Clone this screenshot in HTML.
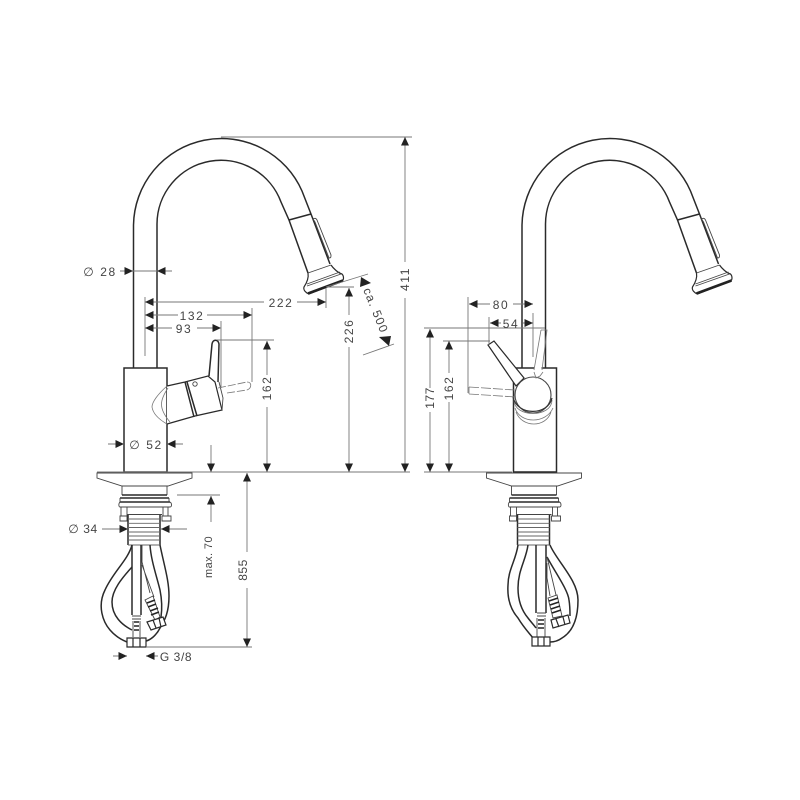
<!DOCTYPE html>
<html><head><meta charset="utf-8"><style>
html,body{margin:0;padding:0;background:#fff}
svg{display:block}
text{font-family:"Liberation Sans",sans-serif;font-size:12px;fill:#444;letter-spacing:1.6px;text-anchor:middle}
.o{fill:none;stroke:#2a2a2a;stroke-width:1.5}
.t{fill:none;stroke:#444;stroke-width:.9}
.d{fill:none;stroke:#777;stroke-width:.9}
.g{fill:none;stroke:#777;stroke-width:.8}
.w{fill:#fff;stroke:#2a2a2a;stroke-width:1.2}
</style></head><body>
<svg width="800" height="800" viewBox="0 0 800 800" xmlns="http://www.w3.org/2000/svg">
<defs>
<polygon id="a" points="-8.5,-4 0,0 -8.5,4" fill="#222"/>
<g id="spout">
<path class="o" d="M133.5 368V225A88 88 0 0 1 302 191L311 214L330 264"/>
<path class="o" d="M157 368V224A64 64 0 0 1 281 202L289 220L308 273"/>
<path class="o" d="M289 220L311 214"/>
<path class="t" d="M313 219C315 218 316 218 317 220L331 255C331 257 331 258 329 258L315 222Z"/>
<path class="w" d="M308 273C309 279 306 284 304 287C303 290 306 293 309 294L342 281C344 280 344 276 342 274C338 273 333 268 331 265"/>
<path class="t" d="M308 273L331 265M307 284L340 272M307 286L341 274"/>
<path d="M308 293.5L343 280.5" fill="none" stroke="#222" stroke-width="2.6"/>
</g>
<g id="deck">
<path class="o" d="M124 368H167V472H124Z"/>
<path d="M126 472.5H165" stroke="#222" stroke-width="2"/>
<path class="t" d="M97 473H192V478L168 486H122L97 478Z" stroke-width="1.1"/>
<path class="t" d="M122 486V495M167 486V495"/>
<path class="o" d="M122 495H167M120 498H169M120 502H170" stroke-width="1.2"/>
<path class="t" d="M120 498V502M169 498V502M120 502C118 504 119 507 120 507H170C172 507 172 503 170 502"/>
<path class="t" d="M121 507V516M127 507V516M163 507V516M168 507V516M127 514.500H162"/>
<path class="t" d="M120 516H127V521H120ZM162 516H171V521H162Z" stroke-width="1.2"/>
<path class="o" d="M128 515V545M160 515V545" stroke-width="1.2"/>
<path d="M128 519H160M128 523.300H160M128 527.500H160M128 532H160M128 536H160M128 540H160M128 545H160" fill="none" stroke="#666" stroke-width=".9"/>
</g>
</defs>

<use href="#spout"/>
<use href="#spout" x="388.5"/>
<use href="#deck"/>
<use href="#deck" x="389.5"/>

<!-- left hoses -->
<g>
<path class="o" d="M132 545V615M141 545V615"/>
<path class="o" d="M132 545C128 560 113 572 105 590C97 606 103 622 110 630C116 637 122 640 127 642" />
<path class="o" d="M132 567C122 578 112 590 112 602C112 616 122 625 132 630"/>
<path class="o" d="M160 545C164 565 169 580 169 596C169 612 165 620 160 628C156 636 150 640 146 641"/>
<path class="o" d="M150 545C151 560 156 574 160 590C162 600 162 610 161 617"/>
<path class="t" d="M142 545V562L150 593M142 565L154 597"/>
<path class="t" d="M132 616H141M132 619H141M133 621V637M140 621V637"/>
<path d="M134 622H139M134 626H139M134 630H139" stroke="#222" stroke-width="1.6"/>
<path class="w" d="M127 638H146V647H127ZM133 638V647M140 638V647"/>
<path class="t" d="M145 600L153 596L160 617L155 620Z"/>
<path d="M147 603L155 600M148 607L156 604M150 611L158 608M151 615L159 612" stroke="#222" stroke-width="1.5"/>
<path class="w" d="M147 622L163 617L166 625L151 630ZM153 620L156 628M159 618L161 627"/>
</g>
<!-- right hoses -->
<g>
<path class="o" d="M536 545V613M546 545V613"/>
<path class="o" d="M518 545C516 560 508 570 508 585C507 600 511 610 518 618C524 628 530 634 533 638"/>
<path class="o" d="M528 545C526 560 518 570 518 588C518 603 523 612 528 618C531 622 534 625 536 628"/>
<path class="o" d="M550 545C556 560 578 580 578 600C578 620 572 632 562 638C558 641 553 642 550 642"/>
<path class="o" d="M547 557C555 572 568 590 569 600C570 606 570 612 570 616"/>
<path class="t" d="M547 563V578L550 596M547 557L556 595"/>
<path class="t" d="M537 613H546M537 616H546M537 618V637M545 618V637"/>
<path d="M538 620H544M538 624H544M538 628H544" stroke="#222" stroke-width="1.6"/>
<path class="w" d="M532 637H550V646H532ZM538 637V646M544 637V646"/>
<path class="t" d="M548 598L557 595L562 616L553 618Z"/>
<path d="M549 601L558 598M550 605L559 602M551 609L560 606M552 613L561 610" stroke="#222" stroke-width="1.5"/>
<path class="w" d="M551 620L568 615L570 623L553 628ZM556 619L559 627M563 617L565 625"/>
</g>

<!-- left lever -->
<path class="o" d="M209 376L212 344C213 339 218 339 219 344L218 382"/>
<path class="w" d="M167 386L185 382L208 376L215 382L222 410L195 416L167 424"/>
<path class="o" d="M185 382L194 417M187 382L197 416"/>
<circle cx="195" cy="384" r="2.2" class="t" stroke-width="1.3"/>
<path class="g" d="M167 386C158 394 152 402 152 407C153 414 160 420 167 424M168 388C160 400 158 408 170 422" />
<path class="t" d="M219 382L223 398L222 410"/>
<path class="g" d="M218 388L247 382M227 393L247 390" stroke-dasharray="8 2"/>
<path class="g" d="M247 382C252 382 252 388 247 390"/>

<!-- right lever -->
<path class="w" d="M488 345L494 341L524 378L516 386Z"/>
<circle cx="533" cy="395" r="18" fill="#fff" stroke="#444" stroke-width="1.1"/>
<path class="g" d="M514 400C514 418 552 418 552 400M515 408C520 424 546 424 553 408M516 412C522 428 546 428 551 412"/>
<path d="M513 397C517 416 548 416 552 398" fill="none" stroke="#333" stroke-width="1.2"/>
<rect x="534.500" y="366" width="7" height="4" fill="#fff"/>
<path class="g" d="M541 330L547 330L542 370M541 330L534 370M534 372L536 378L540 376L543 372"/>
<path class="g" d="M469 387L515 390M469 394L516 397M469 387V394" stroke-dasharray="10 2"/>

<!-- extension lines -->
<path class="d" d="M221 137H412M145 297V356M326 288V308M252 308V382M221 321V388M217 340H274M326 287H354M97 472H410M177 495H220M146 647H252M326 287L368 274M363 355L394 344"/>
<path class="d" d="M120 271H172"/>
<path class="d" d="M145 302H264M297 302H326M145 315H178M207 315H252M145 328H172M197 328H220"/>
<path class="d" d="M108 444H124M167 444H183M211 445V472"/>
<path class="d" d="M405 137V262M405 298V472"/>
<path class="d" d="M349 288V315M349 347V472"/>
<path class="d" d="M267 341V375M267 407V472"/>
<path class="d" d="M102 529H128M161 529H187M211 496V522M247 473V552M247 588V647"/>
<path class="d" d="M113 656H127M146 656H158"/>
<path class="d" d="M424 328H545M443 341H490M468 297V393M489 317V345M533 313V357M469 304H490M513 304H533M490 323H501M523 323H533"/>
<path class="d" d="M430 329V388M430 412V472M449 341V373M449 402V472M424 472H512"/>

<!-- arrows -->
<use href="#a" transform="translate(133,271)"/>
<use href="#a" transform="translate(157,271) rotate(180)"/>
<use href="#a" transform="translate(145,302) rotate(180)"/>
<use href="#a" transform="translate(326,302)"/>
<use href="#a" transform="translate(145,315) rotate(180)"/>
<use href="#a" transform="translate(252,315)"/>
<use href="#a" transform="translate(145,328) rotate(180)"/>
<use href="#a" transform="translate(221,328)"/>
<use href="#a" transform="translate(124,444)"/>
<use href="#a" transform="translate(167,444) rotate(180)"/>
<use href="#a" transform="translate(267,341) rotate(-90)"/>
<use href="#a" transform="translate(267,472) rotate(90)"/>
<use href="#a" transform="translate(211,472) rotate(90)"/>
<use href="#a" transform="translate(405,137) rotate(-90)"/>
<use href="#a" transform="translate(405,472) rotate(90)"/>
<use href="#a" transform="translate(349,288) rotate(-90)"/>
<use href="#a" transform="translate(349,472) rotate(90)"/>
<use href="#a" transform="translate(128,529)"/>
<use href="#a" transform="translate(161,529) rotate(180)"/>
<use href="#a" transform="translate(211,496) rotate(-90)"/>
<use href="#a" transform="translate(247,473) rotate(-90)"/>
<use href="#a" transform="translate(247,647) rotate(90)"/>
<use href="#a" transform="translate(127,656)"/>
<use href="#a" transform="translate(146,656) rotate(180)"/>
<polygon points="361,277 371,283 360,287" fill="#222"/>
<polygon points="389,346 379,337 391,336" fill="#222"/>
<use href="#a" transform="translate(469,304) rotate(180)"/>
<use href="#a" transform="translate(533,304)"/>
<use href="#a" transform="translate(490,323) rotate(180)"/>
<use href="#a" transform="translate(533,323)"/>
<use href="#a" transform="translate(430,329) rotate(-90)"/>
<use href="#a" transform="translate(430,472) rotate(90)"/>
<use href="#a" transform="translate(449,341) rotate(-90)"/>
<use href="#a" transform="translate(449,472) rotate(90)"/>

<!-- labels -->
<text x="100" y="276">∅ 28</text>
<text x="281" y="307">222</text>
<text x="192" y="320">132</text>
<text x="184" y="333">93</text>
<text x="146" y="449">∅ 52</text>
<text x="83" y="533" style="letter-spacing:.6px">∅ 34</text>
<text x="176" y="661" style="letter-spacing:.6px">G 3/8</text>
<text transform="translate(271,388) rotate(-90)">162</text>
<text transform="translate(409,279) rotate(-90)">411</text>
<text transform="translate(353,331) rotate(-90)">226</text>
<text transform="translate(212,557) rotate(-90)" style="font-size:11px;letter-spacing:.4px">max. 70</text>
<text transform="translate(247,570) rotate(-90)" style="letter-spacing:.5px">855</text>
<text transform="translate(372,312) rotate(68)" style="letter-spacing:1.2px">ca. 500</text>
<text x="501" y="309">80</text>
<text x="511" y="328">54</text>
<text transform="translate(434,398) rotate(-90)" style="letter-spacing:.5px">177</text>
<text transform="translate(453,388) rotate(-90)">162</text>
</svg>
</body></html>
